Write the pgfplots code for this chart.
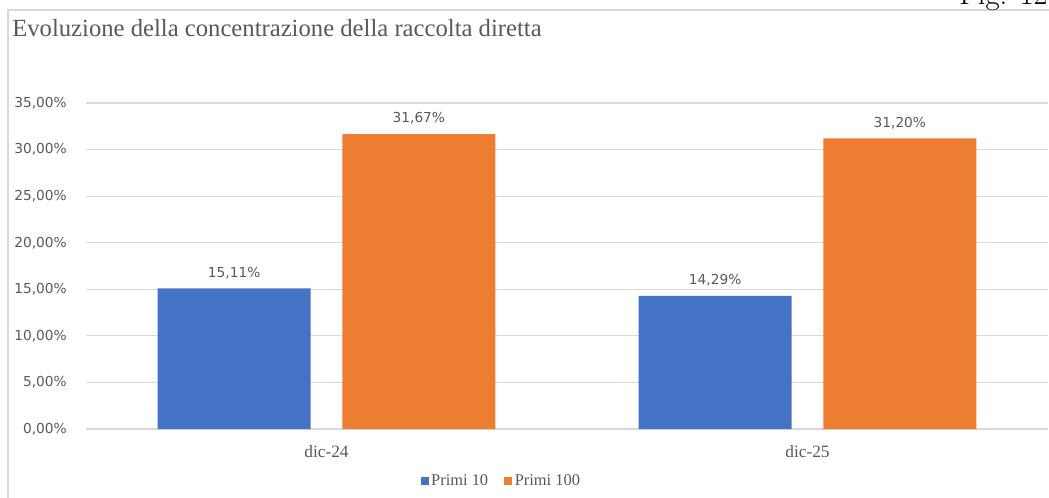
\documentclass[border=0pt]{standalone}
\usepackage{fontspec}
\usepackage{pgfplots}
\pgfplotsset{compat=1.18}
\newfontfamily\serif{Liberation Serif}
\newfontfamily\dv{DejaVu Sans}
\definecolor{barblue}{HTML}{4472C4}
\definecolor{barorange}{HTML}{ED7D31}
\definecolor{gridgray}{HTML}{D9D9D9}
\definecolor{textgray}{HTML}{595959}

\begin{document}
\begin{tikzpicture}
\clip (0,0) rectangle (786.75pt,372.75pt);
\fill[white] (0,0) rectangle (786.75pt,372.75pt);
% chart frame (left and top edges only are visible)
\draw[gridgray, line width=1.1pt] (6pt,-5pt) -- (6pt,365.25pt) -- (795pt,365.25pt);
\node[anchor=base east, inner sep=0pt, font=\fontsize{23}{27}\selectfont] at (786pt,369.5pt) {Fig. 12};
\node[anchor=base west, inner sep=0pt, text=textgray, font=\serif\fontsize{18.5}{22}\selectfont]
  at (9pt,345pt) {Evoluzione della concentrazione della raccolta diretta};

\begin{axis}[
  at={(64.5pt,51pt)}, anchor=south west,
  scale only axis, width=721.5pt, height=244.5pt,
  xmin=-0.5, xmax=1.5, ymin=0, ymax=35,
  ybar,
  xtick={0,1}, xticklabels={dic-24,dic-25},
  ytick={0,5,...,35},
  ymajorgrids, grid style={draw=gridgray, line width=0.9pt},
  axis line style={draw=none}, tick style={draw=none},
  /pgf/number format/assume math mode=true,
  yticklabel={\pgfmathprintnumber[fixed,fixed zerofill,precision=2,use comma]{\tick}\%},
  yticklabel style={font=\dv\fontsize{10.3}{12}\selectfont, text=textgray, anchor=east, inner sep=0pt, xshift=-14.25pt},
  xticklabel style={font=\serif\fontsize{13}{15}\selectfont, text=textgray, anchor=north, inner sep=0pt, yshift=-8pt},
  nodes near coords={\pgfmathprintnumber[fixed,fixed zerofill,precision=2,use comma]{\pgfplotspointmeta}\%},
  nodes near coords style={font=\dv\fontsize{10.3}{12}\selectfont, text=textgray, anchor=south, inner sep=0pt, yshift=7pt},
  legend columns=2,
  legend style={at={(0.432,-0.16)}, anchor=center, draw=none, fill=none,
    font=\serif\fontsize{12.3}{14}\selectfont, text=textgray,
    /tikz/every even column/.append style={column sep=10pt}},
  legend image code/.code={\fill[#1] (0pt,-3pt) rectangle (6pt,3pt);},
]
\addplot[fill=barblue, draw=none, bar width=0.318, bar shift=-0.192]
  coordinates {(0,15.11) (1,14.29)};
\addlegendentry{Primi 10}
\addplot[fill=barorange, draw=none, bar width=0.318, bar shift=0.192]
  coordinates {(0,31.67) (1,31.20)};
\addlegendentry{Primi 100}
\end{axis}
\end{tikzpicture}
\end{document}
